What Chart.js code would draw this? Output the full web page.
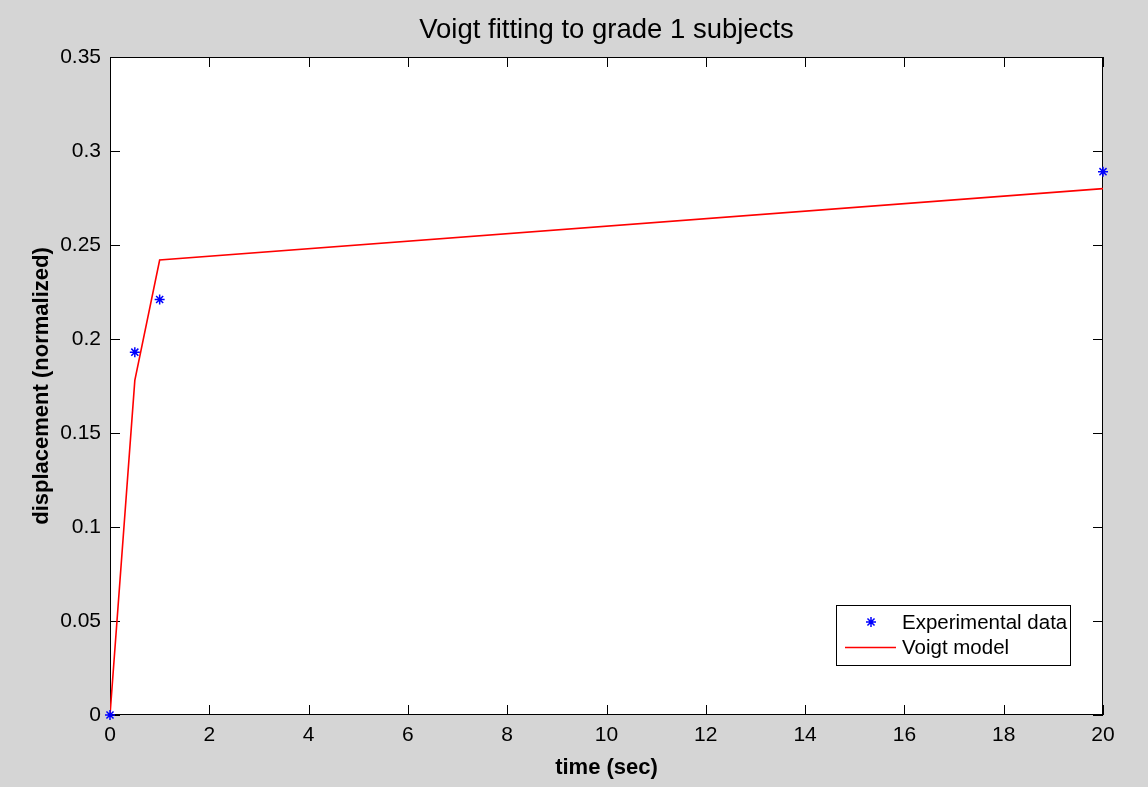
<!DOCTYPE html>
<html>
<head>
<meta charset="utf-8">
<script src="https://cdn.jsdelivr.net/npm/chart.js@4.4.0/dist/chart.umd.min.js"></script>
<style>
  html, body { margin: 0; padding: 0; background: #d5d5d5; }
  #wrap { width: 1148px; height: 787px; }
</style>
</head>
<body>
<div id="wrap"><canvas id="chart" width="1148" height="787"></canvas></div>
<script>
// values
const timeExp = [0, 0.5, 1, 20];
const dispExp = [0, 0.193, 0.221, 0.289];
const timeModel = [0, 0.5, 1, 20];
const dispModel = [0, 0.178, 0.242, 0.280];
const xTicks = [0, 2, 4, 6, 8, 10, 12, 14, 16, 18, 20];
const yTicks = [0, 0.05, 0.1, 0.15, 0.2, 0.25, 0.3, 0.35];
const chartTitle = 'Voigt fitting to grade 1 subjects';

const FONT = '"Liberation Sans", Arial, Helvetica, sans-serif';

// white axes box, inward ticks on all four sides, title over the axes, legend box
const frame = {
  id: 'frame',
  beforeDatasetsDraw(chart) {
    const { ctx, chartArea: a, scales: { x, y } } = chart;
    ctx.save();
    ctx.fillStyle = '#ffffff';
    ctx.fillRect(a.left, a.top, a.right - a.left, a.bottom - a.top);
    ctx.strokeStyle = '#000000';
    ctx.lineWidth = 1;
    ctx.strokeRect(a.left + 0.5, a.top + 0.5, a.right - a.left - 1, a.bottom - a.top - 1);
    ctx.beginPath();
    x.ticks.forEach(t => {
      const px = Math.round(x.getPixelForValue(t.value)) + 0.5;
      ctx.moveTo(px, a.bottom); ctx.lineTo(px, a.bottom - 10);
      ctx.moveTo(px, a.top); ctx.lineTo(px, a.top + 10);
    });
    y.ticks.forEach(t => {
      const py = Math.round(y.getPixelForValue(t.value)) + 0.5;
      ctx.moveTo(a.left, py); ctx.lineTo(a.left + 10, py);
      ctx.moveTo(a.right, py); ctx.lineTo(a.right - 10, py);
    });
    ctx.stroke();

    // title centred on the axes box, like matlab does it
    ctx.fillStyle = '#000000';
    ctx.font = '27.5px ' + FONT;
    ctx.textAlign = 'center';
    ctx.textBaseline = 'middle';
    ctx.fillText(chartTitle, (a.left + a.right) / 2, 30);
    ctx.restore();
  },
  afterDraw(chart) {
    const { ctx } = chart;
    const ds = chart.data.datasets;
    const bx = 836, by = 605, bw = 234, bh = 60;
    ctx.save();
    ctx.fillStyle = '#ffffff';
    ctx.fillRect(bx, by, bw, bh);
    ctx.strokeStyle = '#000000';
    ctx.lineWidth = 1;
    ctx.strokeRect(bx + 0.5, by + 0.5, bw, bh);
    ctx.font = '20.5px ' + FONT;
    ctx.fillStyle = '#000000';
    ctx.textBaseline = 'middle';
    ctx.textAlign = 'left';
    // row 1: marker
    ctx.strokeStyle = ds[0].borderColor;
    ctx.fillStyle = ds[0].borderColor;
    ctx.lineWidth = ds[0].borderWidth;
    Chart.helpers.drawPoint(ctx, {
      pointStyle: 'star', radius: 5, rotation: 0, borderWidth: ds[0].borderWidth
    }, 871, 622);
    ctx.fillStyle = '#000000';
    ctx.fillText(ds[0].label, 902, 623);
    // row 2: line
    ctx.strokeStyle = ds[1].borderColor;
    ctx.lineWidth = ds[1].borderWidth;
    ctx.beginPath();
    ctx.moveTo(845, 647.5); ctx.lineTo(896, 647.5);
    ctx.stroke();
    ctx.fillText(ds[1].label, 902, 648);
    ctx.restore();
  }
};

new Chart(document.getElementById('chart'), {
  type: 'scatter',
  data: {
    datasets: [
      {
        label: 'Experimental data',
        data: timeExp.map((t, i) => ({ x: t, y: dispExp[i] })),
        pointStyle: 'star',
        pointRadius: 5,
        borderColor: '#0000ff',
        backgroundColor: '#0000ff',
        borderWidth: 1.5,
        clip: false,
        order: 0
      },
      {
        type: 'line',
        label: 'Voigt model',
        data: timeModel.map((t, i) => ({ x: t, y: dispModel[i] })),
        borderColor: '#ff0000',
        borderWidth: 1.6,
        pointRadius: 0,
        tension: 0,
        fill: false,
        order: 1
      }
    ]
  },
  options: {
    responsive: false,
    animation: false,
    devicePixelRatio: 1,
    layout: { padding: { top: 57, left: 0, right: 45, bottom: 0 } },
    plugins: {
      legend: { display: false },
      tooltip: { enabled: false },
      title: { display: false }
    },
    scales: {
      x: {
        type: 'linear',
        min: 0,
        max: 20,
        afterBuildTicks: s => { s.ticks = xTicks.map(v => ({ value: v })); },
        afterFit: s => { s.height = 72; },
        grid: { display: false, drawTicks: false },
        border: { display: false },
        ticks: {
          color: '#000000',
          padding: 8,
          maxRotation: 0,
          font: { family: FONT, size: 21 },
          callback: v => String(+v.toFixed(2))
        },
        title: {
          display: true,
          text: 'time (sec)',
          color: '#000000',
          font: { family: FONT, size: 22, weight: 'bold', lineHeight: 1.2 },
          padding: { top: 0, bottom: 6 }
        }
      },
      y: {
        type: 'linear',
        min: 0,
        max: 0.35,
        afterBuildTicks: s => { s.ticks = yTicks.map(v => ({ value: v })); },
        afterFit: s => { s.width = 110; },
        grid: { display: false, drawTicks: false },
        border: { display: false },
        ticks: {
          color: '#000000',
          padding: 9,
          font: { family: FONT, size: 21 },
          callback: v => String(+v.toFixed(2))
        },
        title: {
          display: true,
          text: 'displacement (normalized)',
          color: '#000000',
          font: { family: FONT, size: 22, weight: 'bold', lineHeight: 1.2 },
          padding: { top: 29, bottom: 0 }
        }
      }
    }
  },
  plugins: [frame]
});
</script>
</body>
</html>
